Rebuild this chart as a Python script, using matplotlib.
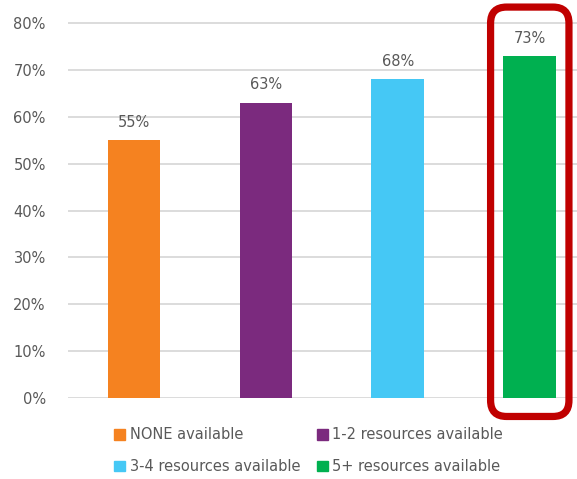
import matplotlib.pyplot as plt
from matplotlib.patches import FancyBboxPatch, Patch
from matplotlib.transforms import IdentityTransform

categories = ['NONE available', '1-2 resources available',
              '3-4 resources available', '5+ resources available']
values = [55, 63, 68, 73]
colors = ['#F58220', '#7B2A7E', '#45C8F5', '#00B050']
yticks = [0, 10, 20, 30, 40, 50, 60, 70, 80]

text_color = '#595959'
plt.rcParams['font.family'] = ['DejaVu Sans']

fig = plt.figure(figsize=(5.77, 4.79), dpi=100)
# a hair of headroom so the 80% gridline isn't clipped
ax = fig.add_axes([68 / 577, 81 / 479, 509 / 577, 377 / 479])

x = range(len(values))
ax.bar(x, values, width=0.4, color=colors, zorder=3)
for xi, v in zip(x, values):
    ax.text(xi, v + 2.2, f'{v}%', ha='center', va='bottom',
            fontsize=10.5, color=text_color)

ax.set_xlim(-0.5, 3.358)
ax.set_ylim(0, 80.43)
ax.set_yticks(yticks)
ax.set_yticklabels([f'{t}%' for t in yticks], fontsize=10.5, color=text_color)
ax.set_xticks([])
ax.tick_params(axis='y', length=0, pad=16)
ax.grid(axis='y', color='#D9D9D9', linewidth=1.3, zorder=0)
for s in ax.spines.values():
    s.set_visible(False)

# legend: two rows, filled row by row
handles = [Patch(color=c) for c in colors]
order = [0, 2, 1, 3]
fig.legend([handles[i] for i in order], [categories[i] for i in order],
           ncol=2, loc='upper left', bbox_to_anchor=(107 / 577, 1 - 420 / 479),
           frameon=False, fontsize=10.5, labelcolor=text_color,
           handlelength=0.75, handleheight=0.75, handletextpad=0.3,
           columnspacing=1.15, labelspacing=1.15, borderpad=0)

# red highlight around the last bar
fig.canvas.draw()
x0, y0 = ax.transData.transform((3 - 0.297, -3.94))
x1, y1 = ax.transData.transform((3 + 0.297, 83.4))
box = FancyBboxPatch((x0, y0), x1 - x0, y1 - y0,
                     boxstyle='round,pad=0,rounding_size=16',
                     transform=IdentityTransform(), fill=False,
                     edgecolor='#C00000', linewidth=5.2, clip_on=False, zorder=5)
fig.patches.append(box)

fig.savefig('out.png', dpi=100)
